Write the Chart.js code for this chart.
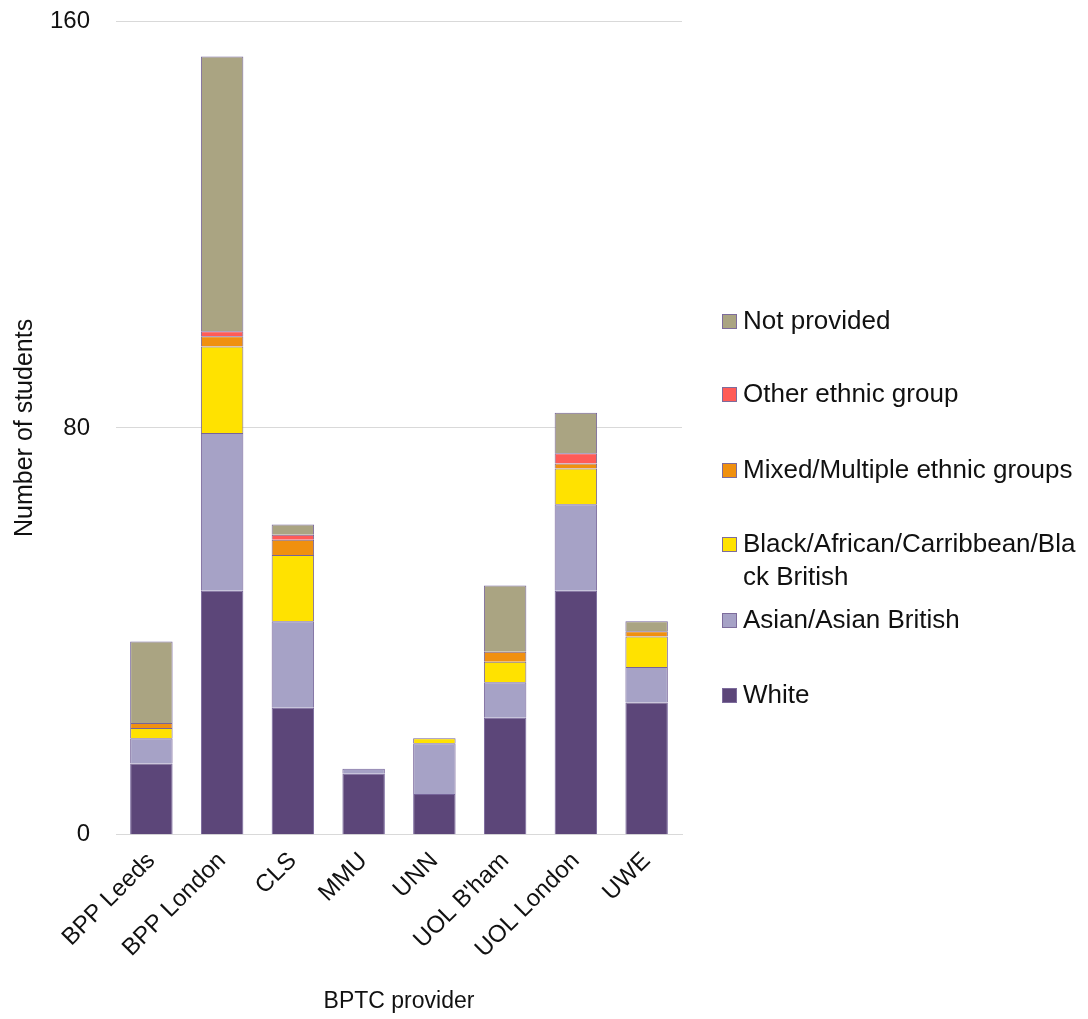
<!DOCTYPE html>
<html>
<head>
<meta charset="utf-8">
<script src="https://cdn.jsdelivr.net/npm/chart.js@4.4.0/dist/chart.umd.min.js"></script>
<style>
  html, body { margin: 0; padding: 0; background: #fff; }
  #wrap { position: relative; width: 1088px; height: 1019px; }
  #legend { position: absolute; left: 722px; top: 0; font-family: "Liberation Sans", Arial, sans-serif; font-size: 26px; color: #111; }
  .item { position: absolute; left: 0; width: 361px; display: flex; align-items: flex-start; line-height: 33px; }
  .box { width: 13px; height: 13px; border: 1px solid #7d6c9c; margin: 10px 6px 0 0; flex: none; }
</style>
</head>
<body>
<div id="wrap">
  <canvas id="ethnicityChart" width="1088" height="1019"></canvas>
  <div id="legend"></div>
</div>
<script>
// BPTC providers and student counts by ethnic group
const providers = ['BPP Leeds', 'BPP London', 'CLS', 'MMU', 'UNN', "UOL B'ham", 'UOL London', 'UWE'];
const white       = [14, 48, 25, 12, 8, 23, 48, 26];
const asian       = [5, 31, 17, 1, 10, 7, 17, 7];
const black       = [2, 17, 13, 0, 1, 4, 7, 6];
const mixed       = [1, 2, 3, 0, 0, 2, 1, 1];
const other       = [0, 1, 1, 0, 0, 0, 2, 0];
const notProvided = [16, 54, 2, 0, 0, 13, 8, 2];
const yTicks = [0, 80, 160];

const groupNames = ['White', 'Asian/Asian British', 'Black/African/Carribbean/Black British',
    'Mixed/Multiple ethnic groups', 'Other ethnic group', 'Not provided'];
const groupColours = ['#5c4679', '#a6a2c6', '#ffe200', '#f0900f', '#ff5b57', '#aaa482'];
const groupValues = [white, asian, black, mixed, other, notProvided];

const datasets = groupNames.map((name, i) => ({
    label: name,
    data: groupValues[i],
    backgroundColor: groupColours[i],
    borderColor: '#76649a',
    borderWidth: 1,
    categoryPercentage: 1,
    barPercentage: 0.6
}));

const family = '"Liberation Sans", Arial, sans-serif';

const chart = new Chart(document.getElementById('ethnicityChart'), {
    type: 'bar',
    data: { labels: providers, datasets: datasets },
    options: {
        responsive: false,
        animation: false,
        layout: { padding: { top: 21, right: 406, bottom: 4, left: 10 } },
        plugins: { legend: { display: false }, tooltip: { enabled: false } },
        scales: {
            x: {
                stacked: true,
                grid: { display: false },
                border: { color: '#d9d9d9' },
                ticks: { color: '#111', font: { family: family, size: 24 }, minRotation: 45, maxRotation: 45, padding: 4 },
                title: { display: true, text: 'BPTC provider', color: '#111', font: { family: family, size: 23 }, padding: { top: 20, bottom: 0 } }
            },
            y: {
                stacked: true,
                min: 0,
                max: 160,
                afterBuildTicks: axis => { axis.ticks = yTicks.map(v => ({ value: v })); },
                // fixed axis width, and no extra top gap from the tick padding
                afterFit: axis => { axis.width = 106; axis.paddingTop = 0; axis.paddingBottom = 0; },
                grid: { color: '#d9d9d9', drawTicks: false },
                border: { display: false },
                ticks: { color: '#111', font: { family: family, size: 24 }, padding: 26 },
                title: { display: true, text: 'Number of students', color: '#111', font: { family: family, size: 25 }, padding: { top: 0, bottom: 0 } }
            }
        }
    }
});

// Legend drawn beside the chart, top item = last dataset
const legendTops = [678, 603, 527, 453, 377, 304];
const legend = document.getElementById('legend');
chart.data.datasets.forEach((ds, i) => {
    const item = document.createElement('div');
    item.className = 'item';
    item.style.top = legendTops[i] + 'px';
    const box = document.createElement('span');
    box.className = 'box';
    box.style.background = ds.backgroundColor;
    const text = document.createElement('span');
    text.textContent = ds.label;
    text.style.wordBreak = 'break-all';
    item.appendChild(box);
    item.appendChild(text);
    legend.appendChild(item);
});
</script>
</body>
</html>
